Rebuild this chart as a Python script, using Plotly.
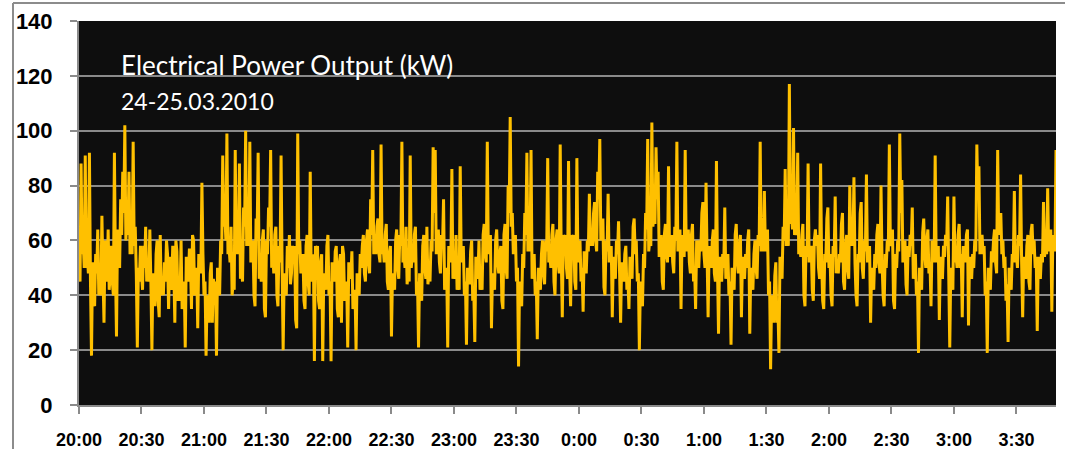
import plotly.graph_objects as go
import pandas as pd

# Readings (kW) starting 24.03.2010 20:00.
# power_on_minute: readings taken at hh:mm:00, power_half_minute: readings at hh:mm:30
start_time = "2010-03-24 20:00"
step_seconds = 30
power_on_minute = [
    # 20:00-20:30
    52, 88, 60, 91, 55, 92, 18, 40, 55, 64, 45, 69, 30, 55, 64, 48, 45, 92, 25, 60,
    75, 85, 102, 70, 85, 60, 96, 65, 21, 45,
    # 20:30-21:00
    48, 58, 65, 50, 64, 20, 42, 55, 38, 62, 45, 52, 60, 35, 48, 58, 30, 56, 42, 60,
    38, 21, 50, 57, 35, 60, 44, 28, 52, 81,
    # 21:00-21:30
    40, 18, 35, 48, 30, 42, 18, 45, 60, 91, 70, 99, 58, 65, 45, 93, 60, 88, 50, 72,
    100, 62, 96, 55, 40, 68, 92, 50, 60, 35,
    # 21:30-22:00
    60, 72, 93, 55, 62, 40, 58, 91, 20, 45, 58, 62, 48, 55, 31, 99, 60, 52, 38, 58,
    45, 85, 50, 16, 55, 38, 52, 16, 45, 58,
    # 22:00-22:30
    40, 16, 50, 56, 35, 52, 30, 55, 42, 21, 50, 56, 38, 20, 45, 55, 58, 48, 60, 52,
    75, 93, 60, 65, 55, 95, 58, 62, 45, 55,
    # 22:30-23:00
    25, 45, 60, 50, 62, 96, 55, 65, 48, 91, 55, 62, 40, 21, 42, 58, 50, 65, 48, 60,
    94, 93, 60, 52, 62, 75, 45, 21, 55, 86,
    # 23:00-23:30
    50, 62, 45, 87, 55, 40, 22, 48, 56, 38, 23, 50, 60, 45, 62, 55, 96, 58, 28, 45,
    60, 52, 55, 38, 62, 50, 80, 105, 70, 58,
    # 23:30-0:00
    45, 14, 40, 55, 70, 92, 60, 93, 50, 40, 24, 45, 55, 48, 60, 90, 55, 62, 45, 60,
    52, 95, 32, 58, 50, 89, 36, 58, 45, 90,
    # 0:00-0:30
    55, 45, 34, 52, 60, 77, 62, 70, 60, 85, 97, 65, 43, 60, 77, 55, 32, 50, 60, 67,
    30, 48, 55, 42, 35, 50, 65, 55, 45, 20,
    # 0:30-1:00
    40, 55, 70, 97, 60, 103, 70, 94, 85, 58, 45, 62, 55, 87, 58, 52, 65, 96, 60, 35,
    58, 93, 60, 52, 62, 45, 35, 55, 60, 70,
    # 1:00-1:30
    55, 81, 32, 55, 60, 48, 89, 26, 50, 55, 72, 50, 40, 22, 45, 62, 52, 58, 32, 50,
    55, 60, 26, 45, 55, 50, 62, 96, 60, 78,
    # 1:30-2:00
    60, 40, 13, 35, 47, 30, 19, 50, 65, 86, 62, 117, 70, 101, 65, 92, 58, 62, 40, 58,
    88, 55, 42, 60, 58, 50, 88, 38, 55, 68,
    # 2:00-2:30
    50, 40, 58, 76, 52, 55, 66, 45, 58, 50, 80, 62, 83, 40, 55, 70, 50, 60, 84, 55,
    30, 45, 55, 62, 52, 80, 40, 55, 60, 95,
    # 2:30-3:00
    60, 38, 55, 60, 99, 82, 55, 44, 58, 62, 72, 50, 40, 19, 45, 63, 55, 60, 48, 36,
    55, 91, 55, 31, 50, 58, 62, 76, 21, 45,
    # 3:00-3:30
    76, 55, 62, 50, 32, 55, 62, 29, 50, 55, 60, 95, 87, 58, 55, 40, 19, 45, 56, 60,
    52, 93, 67, 55, 50, 38, 23, 45, 55, 78,
    # 3:30-3:49
    55, 62, 84, 32, 50, 58, 45, 63, 55, 50, 27, 50, 55, 74, 58, 79, 60, 34, 60, 93,
]
power_half_minute = [
    # 20:00-20:30
    45, 55, 50, 50, 48, 45, 52, 36, 48, 40, 40, 48, 60, 45, 42, 58, 40, 50, 64, 50,
    62, 70, 60, 62, 55, 55, 58, 48, 50, 58,
    # 20:30-21:00
    42, 50, 45, 45, 45, 48, 36, 60, 32, 40, 40, 45, 55, 54, 42, 50, 60, 38, 38, 35,
    45, 54, 45, 52, 62, 40, 50, 55, 48, 55,
    # 21:00-21:30
    45, 40, 30, 52, 46, 45, 50, 40, 55, 65, 60, 55, 52, 40, 42, 55, 55, 46, 45, 65,
    58, 58, 52, 60, 36, 62, 46, 45, 64, 32,
    # 21:30-22:00
    55, 65, 50, 48, 65, 36, 52, 50, 48, 40, 50, 44, 58, 58, 28, 55, 48, 55, 35, 62,
    40, 45, 55, 58, 58, 35, 55, 48, 42, 62,
    # 22:00-22:30
    45, 52, 45, 58, 32, 55, 58, 38, 45, 52, 46, 35, 42, 48, 40, 50, 62, 45, 64, 48,
    62, 55, 55, 68, 52, 55, 52, 66, 42, 58,
    # 22:30-23:00
    48, 42, 64, 46, 58, 52, 50, 44, 45, 50, 52, 65, 45, 48, 38, 62, 46, 44, 45, 56,
    70, 55, 64, 48, 58, 42, 50, 58, 52, 46,
    # 23:00-23:30
    46, 42, 42, 52, 58, 45, 50, 44, 60, 42, 54, 46, 42, 42, 66, 52, 55, 62, 48, 42,
    64, 48, 58, 35, 66, 46, 70, 65, 55, 62,
    # 23:30-0:00
    50, 45, 36, 50, 62, 56, 56, 46, 55, 45, 50, 42, 60, 44, 56, 52, 50, 66, 40, 64,
    48, 55, 62, 62, 46, 50, 62, 62, 42, 52,
    # 0:00-0:30
    60, 50, 56, 48, 56, 58, 58, 74, 56, 75, 60, 68, 40, 56, 52, 58, 54, 46, 55, 48,
    52, 45, 58, 46, 54, 46, 68, 60, 48, 45,
    # 0:30-1:00
    36, 50, 64, 56, 58, 65, 66, 75, 54, 62, 42, 66, 52, 54, 62, 48, 60, 56, 64, 62,
    54, 56, 64, 48, 66, 50, 60, 50, 56, 74,
    # 1:00-1:30
    50, 55, 58, 50, 64, 45, 50, 54, 45, 50, 46, 55, 45, 50, 42, 66, 48, 62, 54, 46,
    50, 64, 50, 42, 60, 46, 58, 56, 56, 56,
    # 1:30-2:00
    64, 45, 40, 30, 52, 36, 54, 46, 60, 58, 58, 66, 64, 62, 62, 55, 54, 66, 36, 54,
    52, 58, 38, 64, 62, 46, 52, 35, 52, 72,
    # 2:00-2:30
    55, 36, 54, 48, 48, 52, 70, 42, 62, 46, 58, 58, 52, 36, 52, 74, 46, 56, 52, 58,
    50, 42, 50, 66, 48, 52, 36, 50, 56, 58,
    # 2:30-3:00
    64, 35, 50, 56, 70, 52, 60, 40, 54, 58, 46, 55, 45, 50, 42, 68, 50, 64, 52, 60,
    52, 52, 58, 54, 46, 54, 58, 48, 50, 42,
    # 3:00-3:30
    52, 50, 66, 55, 58, 52, 64, 54, 46, 50, 56, 75, 55, 62, 58, 45, 50, 42, 52, 64,
    48, 62, 70, 60, 54, 44, 50, 42, 52, 52,
    # 3:30-3:49
    50, 58, 52, 54, 46, 62, 42, 66, 60, 54, 54, 46, 52, 54, 55, 56, 64, 62, 56,
]

power_kw = []
for i, v in enumerate(power_on_minute):
    power_kw.append(v)
    if i < len(power_half_minute):
        power_kw.append(power_half_minute[i])

times = pd.date_range(start=start_time, periods=len(power_kw), freq=f"{step_seconds}s")

chart_label = "Electrical Power Output (kW)"
date_label = "24-25.03.2010"

y_ticks = [0, 20, 40, 60, 80, 100, 120, 140]

fig = go.Figure()
fig.add_trace(go.Scatter(
    x=times, y=power_kw, mode="lines",
    line=dict(color="#FFC000", width=3, simplify=False),
    hoverinfo="x+y", showlegend=False,
))

W, H = 1065, 449
L, R, T, B = 79, 9, 21, 44
PW, PH = W - L - R, H - T - B

axis_grey = "#8a8a8a"

def px_x(px):
    return (px - L) / PW

def px_y(py):
    return (H - B - py) / PH

fig.update_layout(
    width=W, height=H,
    margin=dict(l=L, r=R, t=T, b=B, pad=0),
    paper_bgcolor="white",
    plot_bgcolor="#0e0e0e",
    xaxis=dict(
        type="date", automargin=False,
        range=[times[0], times[-1]],
        tick0=times[0], dtick=30 * 60 * 1000,
        tickformat="%-H:%M",
        showgrid=False, zeroline=False,
        showline=True, linecolor=axis_grey, linewidth=2,
        ticks="outside", ticklen=7, tickwidth=2, tickcolor=axis_grey,
        ticklabelstandoff=10,
        tickfont=dict(family="Liberation Sans, Arial", size=18, color="black", weight="bold"),
    ),
    yaxis=dict(
        automargin=False,
        range=[0, 140], tickvals=y_ticks,
        showgrid=True, gridcolor=axis_grey, gridwidth=2,
        zeroline=False,
        showline=True, linecolor=axis_grey, linewidth=2,
        ticks="outside", ticklen=7, tickwidth=2, tickcolor=axis_grey,
        ticklabelstandoff=13,
        tickfont=dict(family="Liberation Sans, Arial", size=22, color="black", weight="bold"),
    ),
    annotations=[
        dict(text=chart_label, xref="paper", yref="paper",
             x=px_x(119), y=px_y(65),
             xanchor="left", yanchor="middle", showarrow=False,
             font=dict(family="Lato", size=26, color="white")),
        dict(text=date_label, xref="paper", yref="paper",
             x=px_x(119), y=px_y(101),
             xanchor="left", yanchor="middle", showarrow=False,
             font=dict(family="Lato", size=23, color="white")),
    ],
    shapes=[
        dict(type="line", xref="paper", yref="paper",
             x0=px_x(13), x1=px_x(W), y0=px_y(3), y1=px_y(3),
             line=dict(color="#8c8c8c", width=2)),
        dict(type="line", xref="paper", yref="paper",
             x0=px_x(13), x1=px_x(13), y0=px_y(3), y1=px_y(H + 3),
             line=dict(color="#8c8c8c", width=2)),
    ],
)

fig.write_html(
    "out.html",
    config={"displayModeBar": False},
    post_script="document.body.style.margin='0';document.body.style.overflow='hidden';",
)
